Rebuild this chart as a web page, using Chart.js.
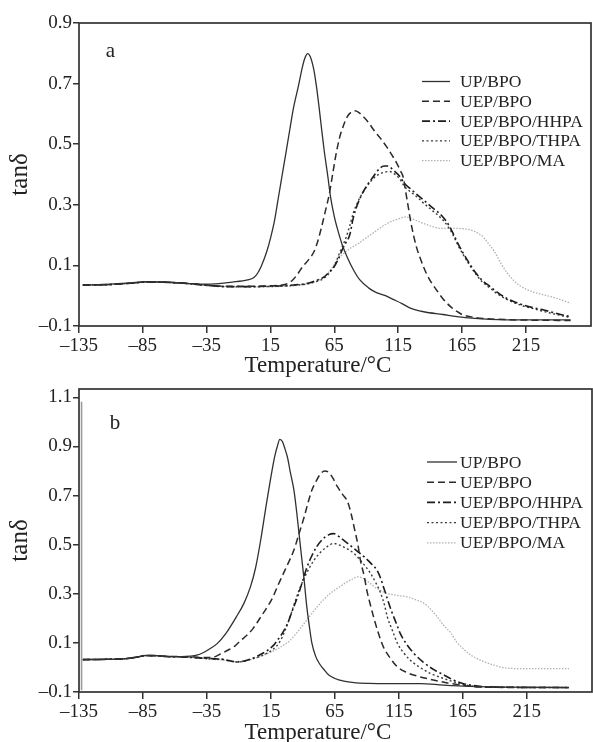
<!DOCTYPE html>
<html>
<head>
<meta charset="utf-8">
<script src="https://cdn.jsdelivr.net/npm/chart.js@4.4.1/dist/chart.umd.min.js"></script>
<style>
  html, body { margin: 0; padding: 0; background: #fff; }
  #wrap { position: relative; width: 593px; height: 742px; overflow: hidden; background: #fff; }
  canvas { position: absolute; left: 0; }
  #chartA { top: 0; }
  #chartB { top: 375px; }
</style>
</head>
<body>
<div id="wrap">
  <canvas id="chartA" width="593" height="385"></canvas>
  <canvas id="chartB" width="593" height="367"></canvas>
</div>
<script>
// ---------------------------------------------------------------------
// Data: [temperature °C, tanδ]
// ---------------------------------------------------------------------
const SERIES_LABELS = ['UP/BPO', 'UEP/BPO', 'UEP/BPO/HHPA', 'UEP/BPO/THPA', 'UEP/BPO/MA'];
const X_TICKS   = [-135, -85, -35, 15, 65, 115, 165, 215];
const Y_TICKS_A = [-0.1, 0.1, 0.3, 0.5, 0.7, 0.9];
const Y_TICKS_B = [-0.1, 0.1, 0.3, 0.5, 0.7, 0.9, 1.1];

// panel a
const A_UP = [[-132,0.035],[-110,0.038],[-95,0.042],[-82,0.046],[-65,0.045],[-50,0.041],[-35,0.038],[-15,0.045],[-3,0.052],[2,0.06],[5,0.075],[8,0.1],[12,0.145],[15,0.19],[18,0.245],[21,0.32],[24,0.395],[27,0.47],[30,0.546],[33,0.62],[37,0.695],[40,0.755],[42,0.785],[44,0.799],[46,0.79],[49,0.744],[51,0.69],[53,0.623],[55,0.55],[57,0.48],[60,0.39],[62,0.326],[65,0.26],[67,0.227],[71,0.17],[75,0.128],[80,0.085],[85,0.052],[92,0.025],[98,0.01],[105,0],[111,-0.012],[118,-0.026],[124,-0.04],[135,-0.053],[150,-0.062],[161,-0.069],[175,-0.075],[187,-0.078],[213,-0.08],[250,-0.08]];
const A_UEP = [[-132,0.035],[-110,0.037],[-95,0.041],[-82,0.045],[-65,0.044],[-50,0.04],[-35,0.035],[-20,0.031],[-5,0.031],[10,0.032],[20,0.034],[27,0.038],[32,0.05],[36,0.07],[40,0.095],[45,0.12],[49,0.145],[52,0.18],[55,0.227],[58,0.28],[61,0.335],[64,0.41],[66,0.46],[69,0.52],[72,0.56],[75,0.59],[78,0.605],[81,0.61],[84,0.605],[88,0.59],[92,0.57],[96,0.546],[101,0.52],[106,0.491],[110,0.465],[114,0.436],[117,0.41],[119,0.39],[121,0.34],[123,0.29],[125,0.24],[129,0.165],[133,0.115],[137,0.074],[141,0.043],[145,0.019],[150,-0.01],[156,-0.036],[161,-0.052],[166,-0.064],[174,-0.071],[182,-0.075],[200,-0.079],[250,-0.082]];
const A_HHPA = [[-132,0.035],[-110,0.037],[-95,0.041],[-82,0.045],[-65,0.044],[-50,0.04],[-35,0.034],[-20,0.03],[-5,0.03],[10,0.031],[25,0.033],[35,0.036],[45,0.042],[52,0.052],[57,0.062],[61,0.078],[64,0.09],[68,0.12],[71,0.15],[74,0.175],[77,0.2],[80,0.26],[83,0.3],[86,0.33],[90,0.36],[95,0.39],[100,0.418],[104,0.428],[107,0.428],[111,0.415],[116,0.395],[120,0.37],[124,0.355],[130,0.333],[135,0.315],[142,0.29],[150,0.26],[155,0.23],[158,0.206],[162,0.17],[166,0.14],[171,0.105],[176,0.074],[181,0.05],[187,0.03],[193,0.01],[200,-0.009],[207,-0.022],[213,-0.031],[221,-0.04],[229,-0.047],[237,-0.056],[244,-0.064],[250,-0.069]];
const A_THPA = [[-132,0.035],[-110,0.037],[-95,0.041],[-82,0.045],[-65,0.044],[-50,0.04],[-35,0.034],[-20,0.03],[-5,0.029],[10,0.03],[25,0.032],[35,0.035],[45,0.04],[52,0.048],[57,0.058],[62,0.08],[65,0.1],[68,0.13],[71,0.16],[74,0.19],[77,0.23],[80,0.275],[84,0.315],[88,0.345],[93,0.375],[98,0.396],[103,0.406],[108,0.41],[112,0.402],[116,0.387],[120,0.36],[124,0.345],[130,0.325],[135,0.305],[142,0.28],[150,0.25],[155,0.222],[158,0.2],[162,0.165],[166,0.135],[171,0.1],[176,0.07],[181,0.045],[187,0.025],[193,0.005],[200,-0.012],[207,-0.025],[213,-0.034],[221,-0.043],[229,-0.052],[240,-0.063],[250,-0.072]];
const A_MA = [[-132,0.035],[-110,0.037],[-95,0.041],[-82,0.045],[-65,0.044],[-50,0.04],[-35,0.034],[-20,0.03],[-5,0.029],[10,0.029],[25,0.031],[35,0.033],[45,0.04],[52,0.05],[57,0.062],[62,0.085],[66,0.11],[70,0.13],[74,0.145],[78,0.158],[83,0.17],[88,0.185],[93,0.2],[98,0.215],[103,0.23],[108,0.242],[114,0.252],[121,0.26],[128,0.25],[135,0.238],[142,0.228],[149,0.222],[155,0.222],[161,0.222],[168,0.22],[174,0.214],[178,0.205],[182,0.192],[186,0.17],[190,0.148],[195,0.11],[200,0.077],[206,0.048],[213,0.026],[221,0.012],[229,0.003],[240,-0.01],[250,-0.025]];

// panel b
const B_UP = [[-132,0.032],[-115,0.033],[-98,0.036],[-90,0.042],[-82,0.049],[-74,0.048],[-66,0.045],[-55,0.044],[-48,0.046],[-43,0.05],[-38,0.06],[-33,0.075],[-27,0.097],[-20,0.14],[-12,0.206],[-6,0.262],[-1,0.328],[3,0.405],[7,0.518],[11,0.65],[15,0.776],[18,0.86],[20,0.9],[22,0.929],[24,0.92],[26,0.89],[28,0.855],[30,0.8],[33,0.722],[35,0.64],[37,0.545],[39,0.45],[41,0.355],[43,0.25],[45,0.17],[47,0.1],[50,0.045],[53,0.015],[57,-0.012],[60,-0.03],[65,-0.045],[72,-0.056],[80,-0.062],[92,-0.065],[106,-0.066],[120,-0.066],[132,-0.066],[150,-0.072],[171,-0.077],[200,-0.08],[248,-0.082]];
const B_UEP = [[-132,0.032],[-115,0.033],[-98,0.036],[-90,0.042],[-82,0.049],[-74,0.048],[-66,0.045],[-55,0.044],[-45,0.043],[-38,0.04],[-32,0.04],[-28,0.045],[-24,0.056],[-18,0.072],[-13,0.088],[-9,0.108],[-4,0.13],[1,0.158],[7,0.205],[12,0.245],[16,0.28],[20,0.328],[25,0.385],[29,0.43],[33,0.478],[37,0.545],[41,0.613],[44,0.67],[47,0.722],[50,0.755],[54,0.79],[57,0.8],[60,0.795],[63,0.775],[67,0.736],[71,0.705],[75,0.674],[78,0.62],[80,0.572],[83,0.5],[85,0.436],[88,0.37],[90,0.314],[93,0.25],[96,0.192],[99,0.14],[103,0.083],[108,0.04],[114,0.002],[121,-0.02],[130,-0.036],[141,-0.05],[153,-0.063],[162,-0.071],[171,-0.077],[190,-0.081],[248,-0.082]];
const B_HHPA = [[-132,0.032],[-115,0.033],[-98,0.036],[-90,0.042],[-82,0.048],[-74,0.047],[-66,0.044],[-55,0.043],[-45,0.04],[-35,0.037],[-28,0.035],[-22,0.033],[-17,0.027],[-12,0.022],[-6,0.026],[-1,0.034],[5,0.048],[12,0.068],[17,0.09],[20,0.11],[24,0.14],[28,0.179],[32,0.235],[36,0.29],[40,0.355],[43,0.405],[47,0.455],[51,0.493],[55,0.52],[60,0.54],[64,0.545],[69,0.53],[75,0.505],[81,0.48],[88,0.45],[93,0.425],[98,0.395],[101,0.36],[103,0.328],[106,0.28],[109,0.233],[113,0.18],[116,0.14],[121,0.095],[127,0.056],[134,0.022],[143,-0.011],[150,-0.03],[158,-0.052],[165,-0.065],[171,-0.072],[185,-0.079],[248,-0.082]];
const B_THPA = [[-132,0.032],[-115,0.033],[-98,0.036],[-90,0.042],[-82,0.048],[-74,0.047],[-66,0.044],[-55,0.043],[-45,0.04],[-35,0.036],[-28,0.034],[-22,0.032],[-17,0.026],[-12,0.022],[-6,0.025],[-1,0.033],[5,0.042],[12,0.058],[17,0.075],[22,0.105],[26,0.15],[30,0.206],[34,0.27],[38,0.328],[43,0.385],[48.6,0.436],[54,0.47],[59,0.492],[64,0.505],[70,0.495],[75,0.482],[80,0.464],[86,0.43],[93,0.382],[97,0.345],[101,0.3],[104,0.25],[106,0.206],[110,0.15],[114,0.097],[119,0.058],[124,0.029],[131,0.002],[140,-0.025],[149,-0.043],[158,-0.059],[165,-0.069],[171,-0.075],[185,-0.08],[248,-0.082]];
const B_MA = [[-132,0.032],[-115,0.033],[-98,0.036],[-90,0.042],[-82,0.048],[-74,0.047],[-66,0.044],[-55,0.043],[-45,0.04],[-35,0.035],[-28,0.032],[-22,0.03],[-17,0.026],[-12,0.024],[-6,0.027],[-1,0.032],[5,0.042],[12,0.056],[20,0.075],[26,0.095],[30,0.11],[35,0.14],[41,0.179],[46,0.213],[51,0.246],[56,0.275],[61,0.3],[67,0.322],[72,0.34],[78,0.358],[83,0.369],[88,0.36],[92,0.345],[96,0.328],[101,0.313],[106,0.301],[113,0.294],[122,0.287],[128,0.276],[135,0.26],[140,0.236],[145,0.206],[150,0.172],[156,0.138],[160,0.105],[164,0.083],[170,0.055],[179,0.029],[189,0.01],[200,-0.003],[215,-0.005],[248,-0.005]];
// scanning artefact: grey vertical stroke near the left axis of panel b
const B_EDGE = [[-133,-0.093],[-133,1.082]];

// ---------------------------------------------------------------------
// Styles
// ---------------------------------------------------------------------
const FONT = '"Liberation Serif", "Times New Roman", serif';
const SERIES_COLORS = ['#303030', '#2a2a2a', '#1c1c1c', '#3a3a3a', '#b0b0b0'];
const SERIES_DASH   = [[], [7, 4], [8, 3, 2, 3], [2, 2.5], [1.5, 1.5]];
const SERIES_WIDTH  = [1.3, 1.5, 1.6, 1.4, 1.3];

const toXY = pts => pts.map(p => ({ x: p[0], y: p[1] }));
const fmt = (v, d) => (v < 0 ? '\u2013' : '') + Math.abs(v).toFixed(d);

function makeDatasets(seriesList) {
  return seriesList.map((pts, i) => ({
    label: SERIES_LABELS[i],
    data: toXY(pts),
    borderColor: SERIES_COLORS[i],
    borderDash: SERIES_DASH[i],
    borderWidth: SERIES_WIDTH[i],
    pointRadius: 0,
    fill: false,
    cubicInterpolationMode: 'monotone',
  }));
}

// frame, panel letter, legend and x-axis title
const decorations = {
  id: 'decorations',
  afterDatasetsDraw(chart, args, o) {
    const { ctx, chartArea: a } = chart;
    ctx.save();
    ctx.setLineDash([]);
    ctx.strokeStyle = '#333';
    ctx.lineWidth = 1.7;
    ctx.strokeRect(a.left, a.top, a.right - a.left, a.bottom - a.top);

    ctx.fillStyle = '#222';
    ctx.textBaseline = 'middle';
    ctx.textAlign = 'center';
    ctx.font = `21px ${FONT}`;
    ctx.fillText(o.letter, o.letterX, o.letterY);

    ctx.font = `23px ${FONT}`;
    ctx.fillText('Temperature/\u00B0C', o.titleX, o.titleY);

    // legend
    ctx.font = `17.5px ${FONT}`;
    ctx.textAlign = 'left';
    SERIES_LABELS.forEach((lab, i) => {
      const y = o.legY + i * o.legGap;
      ctx.strokeStyle = SERIES_COLORS[i];
      ctx.lineWidth = SERIES_WIDTH[i];
      ctx.setLineDash(SERIES_DASH[i]);
      ctx.beginPath();
      ctx.moveTo(o.legX, y);
      ctx.lineTo(o.legX + o.legLen, y);
      ctx.stroke();
      ctx.fillStyle = '#222';
      ctx.fillText(lab, o.legTextX, y + 1);
    });
    ctx.restore();
  }
};

function makeChart(id, datasets, yTicks, yMax, pad, xAxisH, deco) {
  return new Chart(document.getElementById(id), {
    type: 'line',
    data: { datasets },
    plugins: [decorations],
    options: {
      responsive: false,
      animation: false,
      events: [],
      layout: { padding: { top: pad.top, right: pad.right, left: 0, bottom: 0 } },
      plugins: {
        legend: { display: false },
        tooltip: { enabled: false },
        decorations: deco,
      },
      scales: {
        x: {
          type: 'linear',
          min: -135,
          max: 266,
          afterBuildTicks: s => { s.ticks = X_TICKS.map(v => ({ value: v })); },
          afterFit: s => { s.height = xAxisH; },
          ticks: {
            color: '#222',
            font: { family: FONT, size: 19 },
            padding: 2,
            maxRotation: 0,
            autoSkip: false,
            callback: v => fmt(v, 0),
          },
          grid: { drawOnChartArea: false, drawTicks: true, tickLength: 7, color: '#333', lineWidth: 1.5 },
          border: { display: false },
        },
        y: {
          type: 'linear',
          min: -0.1,
          max: yMax,
          afterBuildTicks: s => { s.ticks = yTicks.map(v => ({ value: v })); },
          afterFit: s => { s.width = 79; },
          ticks: {
            color: '#222',
            font: { family: FONT, size: 19 },
            padding: 1,
            autoSkip: false,
            callback: v => fmt(v, 1),
          },
          grid: { drawOnChartArea: false, drawTicks: true, tickLength: 6, color: '#333', lineWidth: 1.5 },
          border: { display: false },
          title: {
            display: true,
            text: 'tan\u03B4',
            color: '#222',
            font: { family: FONT, size: 25 },
            padding: { top: 5, bottom: 0 },
          },
        },
      },
    },
  });
}

// panel a
makeChart('chartA',
  makeDatasets([A_UP, A_UEP, A_HHPA, A_THPA, A_MA]),
  Y_TICKS_A, 0.9,
  { top: 23, right: 2 }, 59,
  { letter: 'a', letterX: 110.5, letterY: 51, titleX: 318, titleY: 366,
    legX: 422, legLen: 28, legTextX: 460, legY: 81.5, legGap: 19.8 });

// panel b
const dsB = makeDatasets([B_UP, B_UEP, B_HHPA, B_THPA, B_MA]);
dsB.push({
  label: 'edge',
  data: toXY(B_EDGE),
  borderColor: '#9a9a9a',
  borderWidth: 1.6,
  pointRadius: 0,
  fill: false,
});
makeChart('chartB', dsB,
  Y_TICKS_B, 1.134,
  { top: 14, right: 1 }, 50,
  { letter: 'b', letterX: 115, letterY: 48, titleX: 318, titleY: 358,
    legX: 427, legLen: 30, legTextX: 460, legY: 87, legGap: 20.2 });
</script>
</body>
</html>
